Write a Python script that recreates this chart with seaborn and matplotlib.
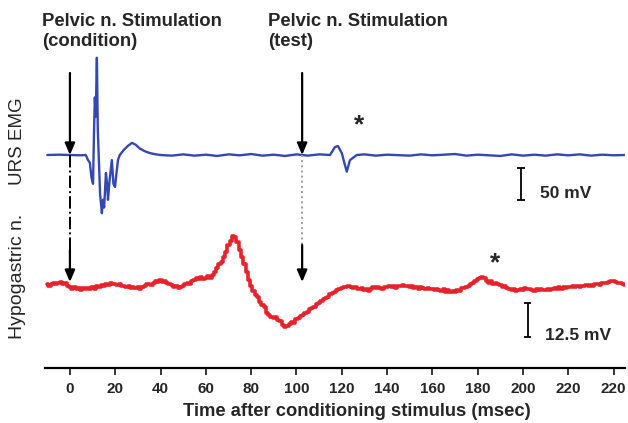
import matplotlib
matplotlib.use("Agg")
import matplotlib.pyplot as plt
import pandas as pd
import seaborn as sns

# URS EMG trace (msec, mV)
emg_t = [-10, -5, 0, 5, 7, 8, 8.8, 9.5, 10.2, 10.6, 11.0, 11.4, 11.9, 12.3, 12.8,
         13.3, 14.1, 14.6, 15.1, 15.9, 16.4, 16.8, 17.5, 18.5, 19.2, 19.9, 20.5,
         21.2, 22, 23.8, 25.5, 27.4, 29, 30.9, 33, 35.3, 38, 40,
         45, 50, 55, 60, 65, 70, 75, 80, 85, 90, 95, 100, 105, 110, 114.8,
         117, 118.3, 120, 121.4, 122.2, 123.6, 126.6,
         130, 135, 140, 150, 155, 160, 170, 175, 180, 190, 195, 200, 205,
         210, 215, 220, 225, 230, 235, 240, 245]
emg_mv = [0, 0.5, 0, -0.5, 0, -8, -12, -35, -45, 30, 90, 60, 152, 40, -10,
          -60, -91, -70, -82, -28, -45, -70, -40, -8, -45, -50, -30,
          -8, 0, 8, 14, 19, 16, 10, 6, 3, 1, 0,
          -1, 1, -1, 0.5, -1.5, 1, -0.5, 1.5, -1, 0.5, -1.5, 1, -1, 1, 0,
          12.5, 14, 3, -16, -26, -8, 0,
          1, -1, 0.5, -1, 1, -0.5, 1.5, -1, 0.5, -1.5, 1, -1, 0.5,
          -1, 1, -0.5, 1, -1, 0.5, -0.5, 0]

# Hypogastric nerve trace, one sample per msec from -10 to 245 (mV)
hyp_t = list(range(-10, 246))
hyp_mv = [
    0.2, -0.3, 0.4, 0.9, 0.3, 0.8, 1.0, 0.4, 0.6, -0.2,
    -0.9, -1.4, -0.8, -1.5, -1.2, -1.7, -1.0, -1.6, -1.1, -1.4,
    -0.9, -1.3, -0.5, -0.9, 0.1, -0.2, 0.4, -0.1, 0.6, 0.2,
    0.5, -0.1, 0.3, -0.4, -0.2, -0.8, -0.4, -1.1, -0.6, -1.2,
    -0.8, -1.3, -0.6, -0.2, 0.2, 0.5, 0.1, 0.9, 1.3, 1.0,
    1.8, 1.2, 1.6, 0.7, 0.3, 0.1, -0.6, -0.4, -1.1, -0.7,
    -0.3, 0.4, 0.8, 0.5, 1.4, 1.9, 2.6, 2.1, 2.8, 2.3,
    2.7, 3.3, 2.6, 3.8, 4.9, 6.2, 7.7, 8.6, 10.2, 12.1,
    14.7, 16.3, 18.0, 17.7, 15.8, 12.9, 10.4, 7.6, 4.8, 1.8,
    -0.4, -2.2, -3.6, -4.4, -6.1, -7.2, -8.0, -10.3, -10.9, -11.6,
    -12.2, -11.8, -12.9, -13.4, -14.8, -15.6, -14.9, -14.2, -13.5, -13.9,
    -12.6, -12.2, -11.3, -11.0, -10.2, -9.9, -9.0, -8.3, -8.0, -7.1,
    -6.7, -5.9, -5.2, -4.6, -4.3, -3.4, -3.0, -2.4, -2.0, -1.6,
    -1.0, -0.6, -0.9, -0.3, -0.6, -1.1, -0.7, -1.3, -1.6, -1.0,
    -1.8, -1.3, -2.1, -1.4, -0.8, -1.2, -0.6, -1.1, -1.5, -0.7,
    -0.9, -0.3, -0.8, -0.4, -1.0, -0.5, -0.2, 0.1, -0.4, -0.2,
    -0.7, -0.5, -1.1, -0.8, -1.3, -0.9, -1.2, -1.6, -1.1, -1.5,
    -1.4, -1.9, -1.3, -1.7, -2.2, -1.6, -2.4, -2.0, -2.7, -2.3,
    -2.5, -1.9, -2.1, -1.2, -1.0, -0.6, -0.3, 0.4, 0.9, 1.5,
    2.1, 2.6, 3.0, 2.4, 1.5, 0.9, 1.3, 0.5, 0.8, 0.2,
    0.1, -0.6, -0.3, -1.2, -1.6, -2.0, -1.5, -2.3, -1.8, -1.4,
    -1.9, -1.2, -1.6, -1.3, -1.7, -2.1, -1.5, -1.9, -1.4, -1.8,
    -2.0, -1.5, -1.9, -1.6, -1.2, -1.5, -0.9, -1.3, -0.8, -1.1,
    -0.6, -0.9, -0.5, -0.8, -0.3, -0.7, -0.2, -0.5, -0.1, -0.4,
    0.0, -0.3, 0.2, 0.5, 0.1, 0.7, 0.9, 0.6, 1.2, 1.4,
    1.5, 1.1, 0.6, 0.9, 0.3, 0.1,
]

tick_pos = [0, 20, 40, 60, 80, 100, 120, 140, 160, 180, 200, 220, 240]
tick_labels = ["0", "20", "40", "60", "80", "100", "120", "140", "160",
               "180", "200", "220", "220"]

stim_condition = 0
stim_test = 102.5
emg_bar_mv = 50
hyp_bar_mv = 12.5

# vertical layout of the stacked traces (axis units, ~1 per pixel)
EMG_BASE, EMG_GAIN = 213, 0.64
HYP_BASE, HYP_GAIN = 83, 2.72
BLUE, RED = "#3447b2", "#e8222a"

emg = pd.DataFrame({"t": emg_t, "y": [EMG_BASE + EMG_GAIN * v for v in emg_mv]})
hyp = pd.DataFrame({"t": hyp_t, "y": [HYP_BASE + HYP_GAIN * v for v in hyp_mv]})

sns.set_style("white")
plt.rcParams["font.family"] = ["Liberation Sans", "DejaVu Sans"]

fig = plt.figure(figsize=(6.28, 4.23), dpi=100)
ax = fig.add_axes([45 / 628, 55 / 423, 580 / 628, 368 / 423])

sns.lineplot(data=emg, x="t", y="y", color=BLUE, lw=1.7, ax=ax)
sns.lineplot(data=hyp, x="t", y="y", color=RED, lw=2.6, drawstyle="steps-mid", ax=ax)

ax.set_xlim(-11, 245)
ax.set_ylim(0, 368)
ax.set_xticks(tick_pos)
ax.set_xticklabels(tick_labels, fontweight="bold", fontsize=11)
ax.set_yticks([])
ax.set_xlabel("")
ax.set_ylabel("")
ax.tick_params(axis="x", direction="out", length=5, width=1.3, pad=5, bottom=True)
for side in ("top", "right", "left"):
    ax.spines[side].set_visible(False)
ax.spines["bottom"].set_linewidth(1.6)
ax.spines["bottom"].set_color("black")

# stimulation arrows
head = dict(arrowstyle="-|>,head_length=0.7,head_width=0.3", color="black",
            lw=1.6, shrinkA=0, shrinkB=0)
for t in (stim_condition, stim_test):
    ax.annotate("", xy=(t, EMG_BASE), xytext=(t, 295), arrowprops=head)
    ax.annotate("", xy=(t, 86), xytext=(t, 118 if t == stim_condition else 123),
                arrowprops=head)
ax.plot([stim_condition] * 2, [EMG_BASE, 118], color="black", lw=1.4, ls="-.")
ax.plot([stim_test] * 2, [EMG_BASE, 123], color="#9a9a9a", lw=1.4, ls=":")

# scale bars
bar_kw = dict(colors="black", lw=1.3)
emg_top, hyp_top = EMG_BASE - 13, HYP_BASE - 18
ax.vlines(199, emg_top - EMG_GAIN * emg_bar_mv, emg_top, **bar_kw)
ax.hlines([emg_top, emg_top - EMG_GAIN * emg_bar_mv], 197.3, 200.7, **bar_kw)
ax.vlines(202, hyp_top - HYP_GAIN * hyp_bar_mv, hyp_top, **bar_kw)
ax.hlines([hyp_top, hyp_top - HYP_GAIN * hyp_bar_mv], 200.3, 203.7, **bar_kw)
ax.text(207.5, 175, f"{emg_bar_mv} mV", fontsize=12.5, fontweight="bold", va="center")
ax.text(209.5, 33, f"{hyp_bar_mv} mV", fontsize=12.5, fontweight="bold", va="center")

# responses marked with asterisks
ax.text(127.6, 243, "*", fontsize=19, fontweight="bold", ha="center", va="center")
ax.text(187.6, 105, "*", fontsize=19, fontweight="bold", ha="center", va="center")

fig.text(42 / 628, 1 - 13 / 423, "Pelvic n. Stimulation\n(condition)", fontsize=13.3,
         fontweight="bold", va="top", ha="left", linespacing=1.25)
fig.text(268 / 628, 1 - 13 / 423, "Pelvic n. Stimulation\n(test)", fontsize=13.3,
         fontweight="bold", va="top", ha="left", linespacing=1.25)
fig.text(18 / 628, 1 - 141 / 423, "URS EMG", fontsize=13.5, rotation=90,
         ha="center", va="center")
fig.text(18 / 628, 1 - 276 / 423, "Hypogastric n.", fontsize=14, rotation=90,
         ha="center", va="center")
fig.text(357 / 628, 1 - 411 / 423, "Time after conditioning stimulus (msec)",
         fontsize=13.2, fontweight="bold", ha="center", va="center")

fig.savefig("out.png", dpi=100)
